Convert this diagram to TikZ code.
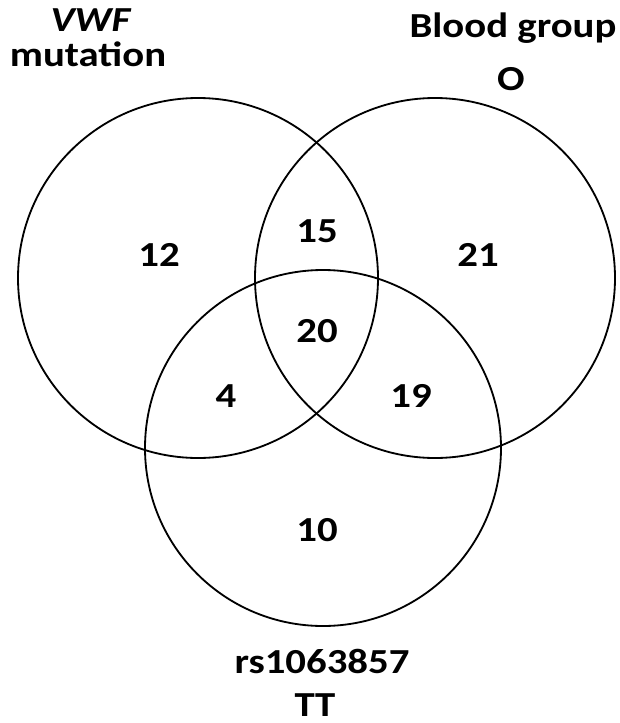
\documentclass[tikz,border=0pt]{standalone}
\usepackage{fontspec}
\setmainfont{Carlito}[FakeStretch=1.16]
\usepackage{tikz}

\begin{document}
\begin{tikzpicture}[x=0.025cm, y=-0.025cm,
  venn/.style={line width=1.3pt},
  lbl/.style={font=\fontsize{25}{30}\selectfont\bfseries, inner sep=0pt},
  num/.style={font=\fontsize{25}{30}\selectfont\bfseries, inner sep=0pt}]
\useasboundingbox (0,0) rectangle (619,723);
%sets
\coordinate (cvwf) at (198,278);
\coordinate (cblood) at (435,278);
\coordinate (csnp) at (323,448);
\draw[venn] (cvwf) circle (180);
\draw[venn] (cblood) circle (180);
\draw[venn] (csnp) circle (178);
%set titles
\node[lbl, anchor=base] (vwf) at (91,31) {\textit{VWF}};
\node[lbl, anchor=base] (mut) at (88,66) {mutation};
\node[lbl, anchor=base] (blood) at (513,37) {Blood group};
\node[lbl, anchor=base] (grpO) at (511,90) {O};
\node[lbl, anchor=base] (snp) at (322,673) {rs1063857};
\node[lbl, anchor=base] (tt) at (315,716) {TT};
%counts
\node[num] (n12) at (159,255) {12};
\node[num] (n15) at (317,231) {15};
\node[num] (n21) at (478,255) {21};
\node[num] (n20) at (317,331) {20};
\node[num] (n4) at (226,396) {4};
\node[num] (n19) at (411,396) {19};
\node[num] (n10) at (317,530) {10};
\end{tikzpicture}
\end{document}
